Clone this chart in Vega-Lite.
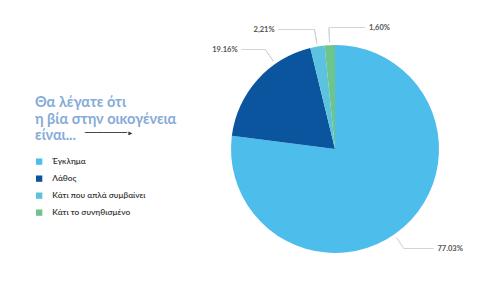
{
  "$schema": "https://vega.github.io/schema/vega-lite/v6.json",
  "width": 208,
  "height": 208,
  "padding": {"left": 231, "top": 45, "right": 59, "bottom": 31},
  "autosize": {"type": "none"},
  "background": "white",
  "title": {
    "text": "───────▸",
    "orient": "top",
    "anchor": "start",
    "frame": "group",
    "offset": 0,
    "dx": -146,
    "dy": 120,
    "baseline": "middle",
    "font": "DejaVu Sans Mono",
    "fontSize": 10,
    "fontWeight": "normal",
    "color": "#333333"
  },
  "data": {
    "values": [
      {"cat": "Έγκλημα", "value": 77.03, "label": "77.03%", "rank": 1},
      {"cat": "Λάθος", "value": 19.16, "label": "19.16%", "rank": 2},
      {"cat": "Κάτι που απλά συμβαίνει", "value": 2.21, "label": "2,21%", "rank": 3},
      {"cat": "Κάτι το συνηθισμένο", "value": 1.6, "label": "1,60%", "rank": 4}
    ]
  },
  "encoding": {
    "theta": {"field": "value", "type": "quantitative", "stack": true},
    "order": {"field": "rank", "type": "quantitative"},
    "detail": {"field": "cat", "type": "nominal"}
  },
  "layer": [
    {
      "mark": {"type": "arc", "strokeWidth": 0},
      "encoding": {
        "color": {
          "field": "cat",
          "type": "nominal",
          "scale": {
            "domain": ["Έγκλημα", "Λάθος", "Κάτι που απλά συμβαίνει", "Κάτι το συνηθισμένο"],
            "range": ["#4DBDEB", "#0B559E", "#5BC2DF", "#6DC58C"]
          },
          "legend": {
            "orient": "none",
            "legendX": -196,
            "legendY": 51,
            "title": ["Θα λέγατε ότι", "η βία στην οικογένεια", "είναι..."],
            "titleFont": "Lato",
            "titleFontSize": 14.5,
            "titleFontWeight": "bold",
            "titleColor": "#86ABD8",
            "titleLineHeight": 16.5,
            "titlePadding": 14,
            "titleLimit": 300,
            "symbolType": "square",
            "symbolSize": 40,
            "symbolStrokeWidth": 0,
            "labelFont": "Lato",
            "labelFontSize": 8.3,
            "labelFontWeight": 600,
            "labelColor": "#333333",
            "labelOffset": 9,
            "labelLimit": 200,
            "rowPadding": 8
          }
        }
      }
    },
    {
      "mark": {"type": "arc", "radius": 121, "radius2": 107, "padAngle": 2.6, "fill": "transparent", "strokeWidth": 0.9},
      "encoding": {"stroke": {"condition": {"test": "datum.rank >= 3", "value": "#cfcfcf"}, "value": "transparent"}}
    },
    {
      "mark": {"type": "arc", "radius": 121, "radius2": 107, "padAngle": 2.6, "thetaOffset": 0.23, "fill": "transparent", "strokeWidth": 0.9},
      "encoding": {"stroke": {"condition": {"test": "datum.rank == 2", "value": "#cfcfcf"}, "value": "transparent"}}
    },
    {
      "mark": {"type": "text", "radius": 114, "thetaOffset": 0.12, "angle": 55.6, "align": "center", "baseline": "middle", "font": "DejaVu Sans Mono", "fontSize": 10, "color": "#cfcfcf"},
      "encoding": {"text": {"condition": {"test": "datum.rank == 1", "value": "──"}, "value": ""}}
    },
    {
      "mark": {"type": "text", "radius": 121, "thetaOffset": 0.12, "align": "left", "baseline": "middle", "font": "DejaVu Sans Mono", "fontSize": 10, "color": "#cfcfcf"},
      "encoding": {"text": {"condition": {"test": "datum.rank == 1", "value": "─────"}, "value": ""}}
    },
    {
      "mark": {"type": "text", "radius": 121, "thetaOffset": 0.12, "align": "left", "baseline": "middle", "dx": 34, "font": "Lato", "fontSize": 7.5, "fontWeight": "bold", "color": "#555555"},
      "encoding": {"text": {"condition": {"test": "datum.rank == 1", "field": "label"}, "value": ""}}
    },
    {
      "mark": {"type": "text", "radius": 121, "thetaOffset": 0.23, "align": "right", "baseline": "middle", "font": "DejaVu Sans Mono", "fontSize": 10, "color": "#cfcfcf"},
      "encoding": {"text": {"condition": {"test": "datum.rank == 2", "value": "────"}, "value": ""}}
    },
    {
      "mark": {"type": "text", "radius": 121, "thetaOffset": 0.23, "align": "right", "baseline": "middle", "dx": -28, "font": "Lato", "fontSize": 7.5, "fontWeight": "bold", "color": "#555555"},
      "encoding": {"text": {"condition": {"test": "datum.rank == 2", "field": "label"}, "value": ""}}
    },
    {
      "mark": {"type": "text", "radius": 121, "align": "right", "baseline": "middle", "font": "DejaVu Sans Mono", "fontSize": 10, "color": "#cfcfcf"},
      "encoding": {"text": {"condition": {"test": "datum.rank == 3", "value": "──────"}, "value": ""}}
    },
    {
      "mark": {"type": "text", "radius": 121, "align": "right", "baseline": "middle", "dx": -40, "font": "Lato", "fontSize": 7.5, "fontWeight": "bold", "color": "#555555"},
      "encoding": {"text": {"condition": {"test": "datum.rank == 3", "field": "label"}, "value": ""}}
    },
    {
      "mark": {"type": "text", "radius": 121, "align": "left", "baseline": "middle", "font": "DejaVu Sans Mono", "fontSize": 10, "color": "#cfcfcf"},
      "encoding": {"text": {"condition": {"test": "datum.rank == 4", "value": "──────"}, "value": ""}}
    },
    {
      "mark": {"type": "text", "radius": 121, "align": "left", "baseline": "middle", "dx": 40, "font": "Lato", "fontSize": 7.5, "fontWeight": "bold", "color": "#555555"},
      "encoding": {"text": {"condition": {"test": "datum.rank == 4", "field": "label"}, "value": ""}}
    }
  ]
}
